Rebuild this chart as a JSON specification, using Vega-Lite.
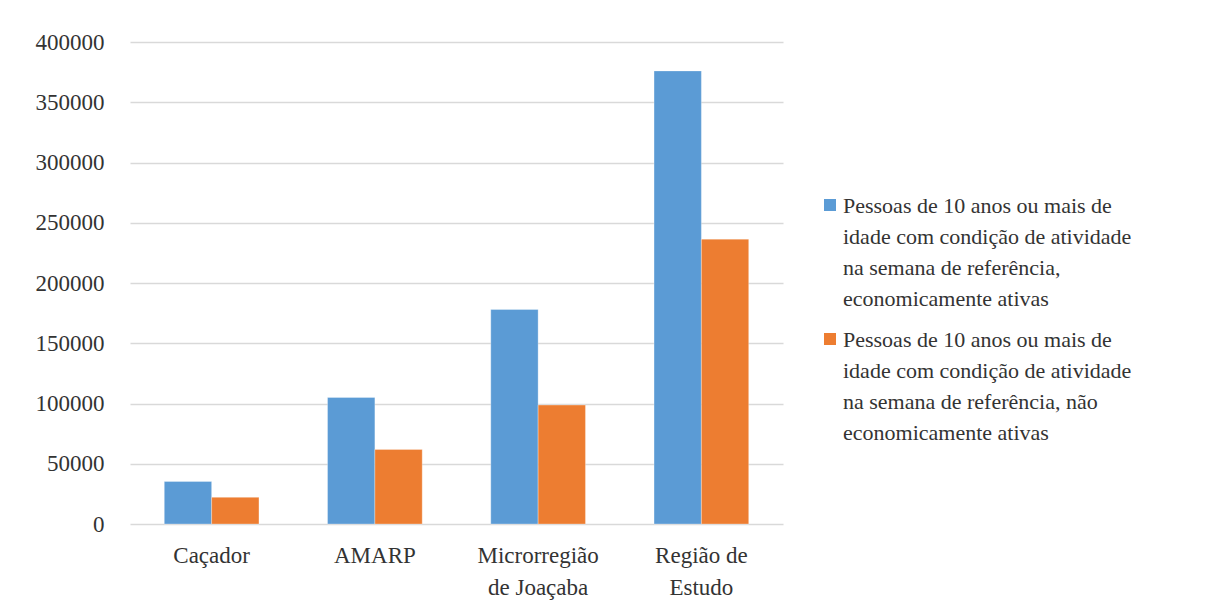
{
  "$schema": "https://vega.github.io/schema/vega-lite/v6.json",
  "width": 653,
  "height": 482,
  "autosize": {"type": "none"},
  "padding": {"left": 130, "top": 42, "right": 428, "bottom": 89},
  "background": "white",
  "data": {
    "values": [
      {"regiao": "Caçador", "serie": "Pessoas de 10 anos ou mais de idade com condição de atividade na semana de referência, economicamente ativas", "valor": 35300},
      {"regiao": "Caçador", "serie": "Pessoas de 10 anos ou mais de idade com condição de atividade na semana de referência, não economicamente ativas", "valor": 22100},
      {"regiao": "AMARP", "serie": "Pessoas de 10 anos ou mais de idade com condição de atividade na semana de referência, economicamente ativas", "valor": 105000},
      {"regiao": "AMARP", "serie": "Pessoas de 10 anos ou mais de idade com condição de atividade na semana de referência, não economicamente ativas", "valor": 61900},
      {"regiao": "Microrregião de Joaçaba", "serie": "Pessoas de 10 anos ou mais de idade com condição de atividade na semana de referência, economicamente ativas", "valor": 178000},
      {"regiao": "Microrregião de Joaçaba", "serie": "Pessoas de 10 anos ou mais de idade com condição de atividade na semana de referência, não economicamente ativas", "valor": 98700},
      {"regiao": "Região de Estudo", "serie": "Pessoas de 10 anos ou mais de idade com condição de atividade na semana de referência, economicamente ativas", "valor": 376000},
      {"regiao": "Região de Estudo", "serie": "Pessoas de 10 anos ou mais de idade com condição de atividade na semana de referência, não economicamente ativas", "valor": 236400}
    ]
  },
  "mark": {"type": "bar", "stroke": "white", "strokeWidth": 0.5, "strokeOpacity": 0.6},
  "encoding": {
    "x": {
      "field": "regiao",
      "type": "nominal",
      "sort": ["Caçador", "AMARP", "Microrregião de Joaçaba", "Região de Estudo"],
      "scale": {"paddingInner": 0.42, "paddingOuter": 0.21},
      "axis": {
        "title": null,
        "labelAngle": 0,
        "domain": false,
        "ticks": false,
        "labelFont": "Liberation Serif",
        "labelFontSize": 23,
        "labelColor": "#333333",
        "labelBaseline": "top",
        "labelPadding": 29,
        "labelLineHeight": 32,
        "labelExpr": "datum.label == 'Microrregião de Joaçaba' ? ['Microrregião', 'de Joaçaba'] : datum.label == 'Região de Estudo' ? ['Região de', 'Estudo'] : datum.label"
      }
    },
    "xOffset": {
      "field": "serie",
      "type": "nominal",
      "scale": {"paddingInner": 0, "paddingOuter": 0}
    },
    "y": {
      "field": "valor",
      "type": "quantitative",
      "scale": {"domain": [0, 400000], "nice": false},
      "axis": {
        "title": null,
        "values": [0, 50000, 100000, 150000, 200000, 250000, 300000, 350000, 400000],
        "format": "d",
        "domain": false,
        "ticks": false,
        "grid": true,
        "gridColor": "#d9d9d9",
        "gridWidth": 1.3,
        "labelFont": "Liberation Serif",
        "labelFontSize": 23,
        "labelColor": "#333333",
        "labelPadding": 26,
        "labelOffset": 9
      }
    },
    "color": {
      "field": "serie",
      "type": "nominal",
      "scale": {"range": ["#5b9bd5", "#ed7d31"]},
      "legend": {
        "title": null,
        "orient": "none",
        "legendX": 689,
        "legendY": 152,
        "symbolType": "square",
        "symbolSize": 144,
        "symbolStrokeWidth": 0,
        "labelFont": "Liberation Serif",
        "labelFontSize": 22,
        "labelColor": "#333333",
        "labelOffset": 2,
        "labelLimit": 400,
        "labelBaseline": "top",
        "rowPadding": 18,
        "labelExpr": "indexof(datum.label, 'não') >= 0 ? ['Pessoas de 10 anos ou mais de', 'idade com condição de atividade', 'na semana de referência, não', 'economicamente ativas'] : ['Pessoas de 10 anos ou mais de', 'idade com condição de atividade', 'na semana de referência,', 'economicamente ativas']"
      }
    }
  },
  "config": {
    "view": {"stroke": null},
    "style": {"guide-label": {"lineHeight": 31, "dy": -9}}
  }
}
